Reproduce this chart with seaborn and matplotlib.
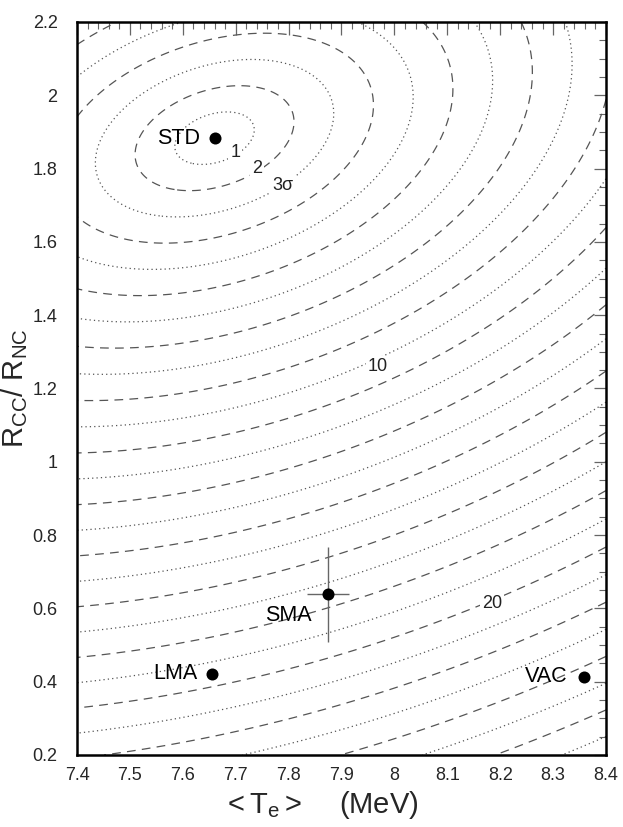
import numpy as np
import pandas as pd
import matplotlib
matplotlib.use("Agg")
import matplotlib.pyplot as plt
import seaborn as sns

# ---- data ----
models = ["STD", "SMA", "LMA", "VAC"]
mean_te = [7.660, 7.874, 7.655, 8.358]      # <T_e> (MeV)
ratio = [1.883, 0.639, 0.421, 0.413]        # R_CC / R_NC
sma_te_err = 0.040
sma_ratio_err_low = 0.131
sma_ratio_err_high = 0.128

# sigma contours around the STD prediction
std_sigma_te = 0.0751
std_sigma_ratio = 0.0716
std_rho = 0.314
sigma_levels = list(range(1, 31))
contour_label_text = ["1", "2", "3σ", "10", "20"]
contour_label_te = [7.699, 7.740, 7.789, 7.969, 8.185]
contour_label_ratio = [1.845, 1.800, 1.753, 1.259, 0.612]

x_ticks = [7.4, 7.5, 7.6, 7.7, 7.8, 7.9, 8.0, 8.1, 8.2, 8.3, 8.4]
x_tick_labels = ["7.4", "7.5", "7.6", "7.7", "7.8", "7.9", "8", "8.1", "8.2", "8.3", "8.4"]
y_ticks = [0.2, 0.4, 0.6, 0.8, 1.0, 1.2, 1.4, 1.6, 1.8, 2.0, 2.2]
y_tick_labels = ["0.2", "0.4", "0.6", "0.8", "1", "1.2", "1.4", "1.6", "1.8", "2", "2.2"]

df = pd.DataFrame({"model": models, "te": mean_te, "ratio": ratio})

sns.set_style("white")
plt.rcParams["font.family"] = ["Liberation Sans", "DejaVu Sans"]
plt.rcParams["mathtext.fontset"] = "custom"
plt.rcParams["mathtext.rm"] = "Liberation Sans"
plt.rcParams["mathtext.it"] = "Liberation Sans"
plt.rcParams["mathtext.default"] = "regular"

fig = plt.figure(figsize=(6.23, 8.27), dpi=100)
ax = fig.add_axes([0.1236, 0.0871, 0.8491, 0.8863])

# contour field
gx = np.linspace(7.4, 8.4, 500)
gy = np.linspace(0.2, 2.2, 500)
X, Y = np.meshgrid(gx, gy)
a = (X - mean_te[0]) / std_sigma_te
b = (Y - ratio[0]) / std_sigma_ratio
Z = np.sqrt((a**2 + b**2 - 2 * std_rho * a * b) / (1 - std_rho**2))

styles = [(0, (1, 2.5)) if lv % 2 == 1 else (0, (7, 5)) for lv in sigma_levels]
cs = ax.contour(X, Y, Z, levels=sigma_levels, colors="#555555",
                linewidths=0.9, linestyles=styles)

for t, xv, yv in zip(contour_label_text, contour_label_te, contour_label_ratio):
    ax.text(xv, yv, t, ha="center", va="center", fontsize=13, color="#222222",
            zorder=4, bbox=dict(boxstyle="square,pad=0.12", fc="white", ec="none"))

# SMA error bars
ax.errorbar(mean_te[1], ratio[1], xerr=sma_te_err,
            yerr=[[sma_ratio_err_low], [sma_ratio_err_high]],
            fmt="none", ecolor="#666666", elinewidth=1.0, capsize=0)

sns.scatterplot(data=df, x="te", y="ratio", color="black", s=75,
                edgecolor="black", linewidth=0, ax=ax, legend=False, zorder=5)

label_offsets = {"STD": (-0.027, 0.0), "SMA": (-0.030, -0.059),
                 "LMA": (-0.027, 0.0), "VAC": (-0.031, 0.0)}
for m, xv, yv in zip(models, mean_te, ratio):
    dx, dy = label_offsets[m]
    ax.text(xv + dx, yv + dy, m, ha="right", va="center", fontsize=15.5, color="black")

ax.set_xlim(7.4, 8.4)
ax.set_ylim(0.2, 2.2)
ax.set_xticks(x_ticks)
ax.set_xticklabels(x_tick_labels)
ax.set_yticks(y_ticks)
ax.set_yticklabels(y_tick_labels)
ax.set_xticks(np.arange(7.4, 8.4001, 0.02), minor=True)
ax.set_yticks(np.arange(0.2, 2.2001, 0.05), minor=True)
ax.tick_params(which="both", direction="in", top=True, right=True,
               color="#666666", labelsize=13)
ax.tick_params(axis="x", which="major", pad=9)
ax.tick_params(axis="y", which="major", pad=14)
ax.tick_params(which="major", length=9, width=0.9)
ax.tick_params(which="minor", length=5, width=0.8)
for sp in ax.spines.values():
    sp.set_linewidth(1.8)
    sp.set_color("black")

ax.set_xlabel(r"$<T_e>$    (MeV)", fontsize=21)
ax.xaxis.set_label_coords(0.46, -0.046)
ax.set_ylabel(r"$R_{CC}/\ R_{NC}$", fontsize=21)
ax.yaxis.set_label_coords(-0.088, 0.5)

fig.savefig("out.png", dpi=100)
